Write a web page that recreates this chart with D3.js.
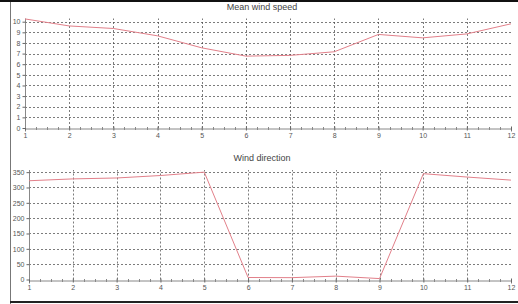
<!DOCTYPE html>
<html><head><meta charset="utf-8">
<script src="https://cdn.jsdelivr.net/npm/d3@7"></script>
<style>body{margin:0;background:#fff}svg{display:block}</style>
</head><body>
<script>
const months = [1,2,3,4,5,6,7,8,9,10,11,12];
const windSpeed = [10.26,9.6,9.36,8.67,7.54,6.76,6.83,7.17,8.8,8.48,8.85,9.8];
const windDir = [322,328,331,339,350,6.5,6,11,3,345,334,324];
const speedTicks = [0,1,2,3,4,5,6,7,8,9,10];
const dirTicks = [0,50,100,150,200,250,300,350];
const titles = ["Mean wind speed","Wind direction"];

const W=518,H=304;
const svg=d3.select("body").append("svg").attr("width",W).attr("height",H);

// window frame
svg.append("rect").attr("x",0).attr("y",0).attr("width",W).attr("height",2).attr("fill","#111");
svg.append("line").attr("x1",10.5).attr("x2",10.5).attr("y1",2).attr("y2",H).attr("stroke","#777");
svg.append("rect").attr("x",10).attr("y",301).attr("width",W-10).attr("height",2).attr("fill","#222");

function panel(cfg){
  const x=d3.scaleLinear().domain([1,12]).range([cfg.x0,511]);
  const y=d3.scaleLinear().domain([0,cfg.ymax]).range([cfg.y0,cfg.y1]);
  const g=svg.append("g");
  // horizontal grid
  g.selectAll(".hg").data(cfg.ticks.filter(d=>d>0)).enter().append("line")
    .attr("x1",x(1)).attr("x2",x(12)).attr("y1",d=>Math.round(y(d))+0.5).attr("y2",d=>Math.round(y(d))+0.5)
    .attr("stroke","#444").attr("stroke-width",0.7).attr("stroke-dasharray","2,2");
  // vertical grid
  g.selectAll(".vg").data(months.filter(d=>d>1&&d<12)).enter().append("line")
    .attr("x1",d=>Math.round(x(d))+0.5).attr("x2",d=>Math.round(x(d))+0.5).attr("y1",cfg.y0).attr("y2",cfg.y1)
    .attr("stroke","#444").attr("stroke-width",0.7).attr("stroke-dasharray","2,2");
  // x axis
  const xa=d3.axisBottom(x).tickValues(months).tickSize(3).tickFormat(d3.format("d"));
  const gx=g.append("g").attr("transform",`translate(0,${Math.round(cfg.y0)+0.5})`).call(xa);
  gx.select(".domain").attr("stroke","#888");
  gx.selectAll(".tick line").attr("stroke","#666").attr("y1",-2).attr("y2",2);
  gx.selectAll("text").attr("font-family","Liberation Sans, Arial, sans-serif").attr("font-size",7).attr("fill","#555").attr("dy","0.9em").attr("y",3);
  // minor ticks
  const minors=[];
  months.slice(0,-1).forEach(m=>{for(let k=1;k<4;k++)minors.push(m+k/4);});
  g.selectAll(".mt").data(minors).enter().append("line")
    .attr("x1",d=>Math.round(x(d))+0.5).attr("x2",d=>Math.round(x(d))+0.5)
    .attr("y1",Math.round(cfg.y0)-1).attr("y2",Math.round(cfg.y0)+2).attr("stroke","#888");
  // y axis
  const ya=d3.axisLeft(y).tickValues(cfg.ticks).tickSize(3).tickFormat(d3.format("d"));
  const gy=g.append("g").attr("transform",`translate(${Math.round(cfg.x0)+0.5},0)`).call(ya);
  gy.select(".domain").attr("stroke","#888").attr("d",`M0,${cfg.y0}V${cfg.y1}`);
  gy.selectAll(".tick line").attr("stroke","#666");
  gy.selectAll("text").attr("font-family","Liberation Sans, Arial, sans-serif").attr("font-size",7).attr("fill","#555").attr("x",-5);
  // line
  g.append("path").datum(cfg.values)
    .attr("d",d3.line().x((d,i)=>x(months[i])).y(d=>y(d)))
    .attr("fill","none").attr("stroke","#e2808a").attr("stroke-width",1);
  // title
  g.append("text").attr("x",262).attr("y",cfg.ty).attr("text-anchor","middle")
    .attr("font-family","Liberation Sans, Arial, sans-serif").attr("font-size",9).attr("fill","#444").text(cfg.title);
}
panel({x0:25,y0:128,y1:18.5,ymax:10.3,ticks:speedTicks,values:windSpeed,title:titles[0],ty:10});
panel({x0:29,y0:279.5,y1:170,ymax:357,ticks:dirTicks,values:windDir,title:titles[1],ty:161});
</script>
</body></html>
